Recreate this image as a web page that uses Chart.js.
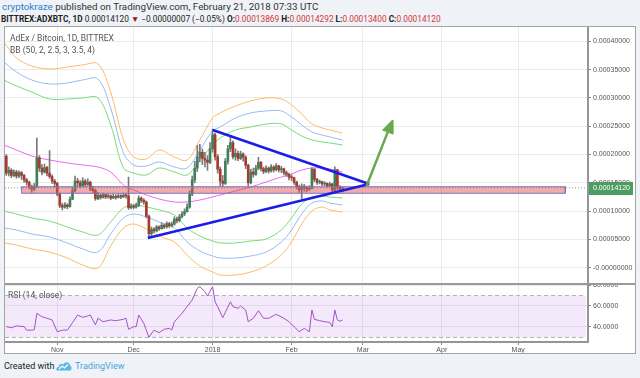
<!DOCTYPE html>
<html>
<head>
<meta charset="utf-8">
<title>ADXBTC 1D</title>
<script src="https://cdn.jsdelivr.net/npm/chart.js@4.4.1/dist/chart.umd.min.js"></script>
<style>
  html, body { margin: 0; padding: 0; }
  body { position: relative; width: 640px; height: 378px; overflow: hidden; background: #eff2f6; font-family: Roboto, "Liberation Sans", sans-serif; }
  .txt { position: absolute; white-space: nowrap; line-height: 12px; }
  #frame { position: absolute; left: 4px; top: 26px; width: 632px; height: 328px; box-sizing: border-box; border: 1px solid #a4a4a4; background: #fff; }
  canvas { position: absolute; left: 5px; }
  #priceCanvas { top: 27px; }
  #rsiCanvas { top: 285px; }
  #sep { position: absolute; left: 5px; top: 283px; width: 630px; height: 2px; background: #9a9a9a; }
  .red { color: #d4373a; }
  b { font-weight: 700; }
</style>
</head>
<body>
<div class="txt" style="left:2px;top:1px;font-size:9.8px;color:#333"><span style="color:#2d7dd2">cryptokraze</span> published on TradingView.com, February 21, 2018 07:33 UTC</div>
<div class="txt" style="left:1px;top:12.5px;font-size:8.3px;color:#222"><b>BITTREX:ADXBTC, 1D</b> 0.00014120 <span style="color:#a01010">▼</span> −0.00000007 (−0.05%) <b>O:</b><span class="red">0.00013869</span> <b>H:</b><span class="red">0.00014292</span> <b>L:</b><span class="red">0.00013400</span> <b>C:</b><span class="red">0.00014120</span></div>
<div id="frame"></div>
<canvas id="priceCanvas" width="630" height="257"></canvas>
<canvas id="rsiCanvas" width="630" height="68"></canvas>
<div id="sep"></div>
<div class="txt" style="left:10px;top:32px;font-size:8.5px;color:#555">AdEx / Bitcoin, 1D, BITTREX</div>
<div class="txt" style="left:10px;top:44px;font-size:8.5px;color:#555">BB (50, 2, 2.5, 3, 3.5, 4)</div>
<div class="txt" style="left:8px;top:289px;font-size:8.5px;color:#555">RSI (14, close)</div>
<div class="txt" style="left:4px;top:360px;font-size:9px;color:#222">Created with</div>
<svg style="position:absolute;left:56px;top:361px" width="16" height="10" viewBox="0 0 16 10">
  <path d="M1 9.5 C0 9.5 0 6 2.5 6 C3 3 6 2 7.5 3.5 C9 0.5 13.5 0.5 14 4.5 C16 5 16 9.5 14 9.5 Z" fill="#5db4e6"/>
  <path d="M3 8 L6 5 L8.5 7 L12 3.5" fill="none" stroke="#fff" stroke-width="1.2"/>
</svg>
<div class="txt" style="left:75px;top:360px;font-size:9px;color:#46a4df">TradingView</div>

<script>
// x values are days counted from 1 Nov 2017 (day 0)
const monthDays = [0, 30, 61, 92, 120, 151, 181];
const monthLabels = ['Nov', 'Dec', '2018', 'Feb', 'Mar', 'Apr', 'May'];

// prices are in satoshi (1e-8 BTC)
const priceTicks = [0, 5000, 10000, 15000, 20000, 25000, 30000, 35000, 40000];
const rsiTicks = [40, 60, 80];

// daily candles, 12 Oct 2017 .. 21 Feb 2018
const firstDay = -20;
const firstOpen = 19700;
const closes = [
  16700, 17200, 16300, 16900, 16200, 16800, 16300, 15500, 15100, 14300,
  13900, 14400, 19400, 17600, 16900, 17700, 16700, 16100, 15300, 14900,
  13000, 11000, 10700, 11100, 10800, 12100, 13600, 15300, 15000, 14500,
  15300, 14700, 15100, 13900, 13600, 12200, 12800, 12400, 12900, 12500,
  12700, 12300, 12600, 12400, 12700, 12500, 12800, 12700, 10600, 10900,
  10700, 11000, 12300, 11900, 11600, 9100, 6000, 6800, 6500, 7200,
  6900, 7500, 7200, 7800, 7400, 7700, 8600, 8300, 9000, 9500,
  9900, 10700, 13000, 15500, 17600, 19500, 20400, 19300, 19000, 18600,
  21000, 23500, 19600, 17400, 15300, 14900, 18800, 21000, 22100, 19600,
  20200, 19300, 20100, 19500, 18100, 15000, 16900, 16500, 17600, 18600,
  17500, 17000, 17600, 17100, 17800, 17300, 18000, 17300, 17500, 16800,
  16500, 16000, 15900, 15100, 14300, 13800, 14400, 14100, 13900, 14000,
  17400, 15600, 15100, 15200, 14800, 14900, 14500, 14800, 13700, 17300,
  14200, 13869, 14120
];
const highs = [
  20000, 17800, 17500, 17300, 17200, 17100, 17000, 16500, 15800, 15300,
  14600, 14900, 22900, 19800, 18200, 18300, 17900, 20700, 16400, 15600,
  15100, 13200, 11400, 11500, 11300, 12500, 14200, 16200, 15800, 15400,
  15900, 15600, 15700, 15300, 14400, 13900, 13300, 13000, 13200, 13000,
  13100, 12900, 13000, 12900, 13100, 12900, 13200, 13100, 16000, 11300,
  11200, 11400, 12700, 12500, 12200, 11800, 9300, 7200, 7100, 7500,
  7400, 7900, 7700, 8100, 8000, 8100, 9000, 8900, 9400, 9900,
  10400, 11300, 13600, 16200, 18800, 21600, 21800, 21000, 20400, 19800,
  22100, 24500, 23800, 20000, 17800, 16300, 19300, 21600, 23200, 22400,
  21000, 20600, 20600, 20300, 19800, 18300, 17400, 17600, 18100, 19500,
  18800, 17800, 18000, 17800, 18200, 18000, 18400, 18100, 17900, 17600,
  17100, 16700, 16400, 16000, 15300, 14600, 14800, 14700, 14400, 14500,
  17700, 17500, 15800, 15500, 15300, 15200, 15000, 15100, 14900, 17800,
  17400, 14500, 14292
];
const lows = [
  16300, 16200, 15900, 16100, 15800, 15900, 15600, 15100, 14600, 13900,
  13300, 13600, 14200, 17000, 16400, 16700, 16200, 15800, 14900, 14200,
  12700, 10600, 10200, 10500, 10400, 10700, 12000, 13400, 14400, 14100,
  14300, 14300, 14500, 13600, 13200, 11900, 12000, 12100, 12300, 12200,
  12300, 12000, 12200, 12100, 12300, 12200, 12400, 12300, 10300, 10400,
  10400, 10500, 10800, 11500, 11200, 8800, 5400, 5300, 6200, 6300,
  6600, 6800, 6900, 7000, 7100, 7200, 7500, 7900, 8100, 8800,
  9200, 9800, 10500, 12700, 15000, 17000, 18700, 18200, 17800, 17200,
  18400, 20400, 19000, 16700, 14400, 14300, 14700, 18300, 20500, 19200,
  19000, 18900, 19100, 18800, 17500, 14500, 14800, 16000, 16300, 17300,
  17100, 16600, 16800, 16700, 16900, 16900, 17100, 16900, 16800, 16400,
  16100, 15500, 15400, 14700, 13900, 13300, 12200, 13500, 13400, 13600,
  13900, 15200, 14700, 14800, 14500, 14500, 14200, 14300, 13300, 13500,
  13800, 13600, 13400
];

// Bollinger bands at sample days
const bandDays = [-21, -16, -10, -3, 4, 10, 16, 21, 26, 30, 35, 40, 46, 51, 56, 61, 64, 70, 76, 82, 88, 92, 96, 100, 104, 107, 112];
const bbMid = [21680, 20800, 19740, 19030, 18500, 18150, 17790, 16910, 14610, 13730, 12850, 12140, 11610, 11610, 11960, 12490, 12850, 13550, 14260, 15140, 16030, 16560, 17260, 17620, 17620, 17440, 16910];
const bbUpper2 = [33170, 32110, 31050, 29810, 29810, 29990, 29990, 25220, 17620, 16730, 16380, 17620, 16910, 16380, 19030, 21680, 22920, 24330, 24860, 25390, 25390, 24330, 23270, 22570, 22210, 22040, 21680];
const bbUpper25 = [36350, 34580, 33170, 32460, 32640, 33170, 33340, 28220, 20270, 18150, 17970, 18680, 17790, 17620, 20800, 24160, 24860, 26450, 27340, 27690, 27690, 26630, 25220, 23980, 23450, 23100, 22570];
const bbUpper3 = [39880, 37050, 35640, 35110, 35460, 35820, 35990, 31050, 22570, 19560, 19210, 20800, 19560, 19030, 22570, 26450, 27340, 28570, 29460, 29990, 29810, 28750, 27160, 25390, 24690, 24330, 23800];
const bbLower2 = [10020, 9490, 8780, 8250, 7190, 6310, 5780, 8080, 10550, 11080, 10730, 10200, 9310, 7020, 5600, 4720, 4370, 4370, 4720, 5070, 6660, 8780, 11260, 12490, 12670, 12490, 12320];
const bbLower25 = [7020, 6660, 5960, 5430, 4370, 3310, 2770, 5960, 8780, 9490, 8960, 8080, 7020, 4540, 2950, 2070, 1710, 1710, 2070, 2770, 4540, 6660, 9490, 11430, 11790, 11430, 11080];
const bbLower3 = [4370, 4010, 3310, 2770, 1710, 480, -50, 3840, 7020, 7720, 6840, 5600, 4540, 2240, 300, -760, -1290, -1290, -760, 300, 2240, 4540, 7720, 10020, 10730, 10200, 9840];

// RSI(14)
const rsiDays = [-20, -18, -16, -13, -12, -10, -9, -8, -6, -4, -2, 0, 2, 4, 6, 8, 10, 12, 13, 15, 16, 18, 21, 23, 26, 27, 28, 30, 31, 32, 34, 36, 38, 40, 42, 44, 45, 46, 49, 51, 53, 55, 56, 58, 59, 61, 62, 63, 65, 68, 69, 71, 72, 74, 75, 77, 79, 81, 83, 86, 89, 91, 93, 95, 97, 98, 99, 100, 101, 103, 105, 107, 108, 109, 110, 111, 112];
const rsiValues = [40.3, 39.3, 41, 40.3, 37, 37, 37.5, 53, 49.8, 48.3, 46.7, 35.5, 37, 37, 44, 51.4, 49.2, 50.5, 51.4, 42, 48.3, 45, 46.7, 46, 47.3, 48.3, 37.8, 40.3, 40.3, 51.4, 43.5, 30.2, 37, 34.6, 37.8, 38.7, 37, 45, 53, 59.4, 65.7, 76.9, 78.4, 73.6, 69.5, 78.4, 64, 59.4, 48.9, 64, 59.4, 57.8, 60, 56.2, 45, 48.3, 55.5, 48.3, 48.3, 52.1, 48.3, 45, 40.3, 35.5, 38.7, 37, 35.5, 56.2, 47.3, 46, 45, 44.4, 40.3, 56.2, 46.7, 45.5, 46.7];
const rsiBand = [30, 70];

// drawings on the chart: [day, price]
const zoneDays = [-14, 199.5];
const zonePrices = [13150, 14300];
const upperTrend = [[61.06, 24330], [122.5, 14790]];
const lowerTrend = [[35.57, 5250], [122.5, 14790]];
const arrowShaft = [[121.45, 14440], [129.76, 23960]];
const arrowHead = [[131.65, 26100], [131.76, 23610], [127.76, 24310], [131.65, 26100]];

const X_MIN = -20.5, X_MAX = 208.4;
const GRID = '#ebebeb';
const AXIS = '#959595';
const UP = '#3f8058', DOWN = '#a63a2e', WICK = '#7a7a7c';

Chart.defaults.font.family = '"Liberation Sans", Arial, sans-serif';
Chart.defaults.font.size = 7;
Chart.defaults.color = '#555';

const pts = (xs, ys) => xs.map((x, i) => ({ x: x, y: ys[i] }));
const pairs = arr => arr.map(p => ({ x: p[0], y: p[1] }));
const line = (data, color, extra) => Object.assign({
  type: 'line', data: data, borderColor: color, borderWidth: 1,
  pointRadius: 0, fill: false, tension: 0
}, extra || {});

const candleDays = closes.map((c, i) => firstDay + i);
const opens = closes.map((c, i) => i === 0 ? firstOpen : closes[i - 1]);
const lastClose = closes[closes.length - 1];

function xScale(showLabels) {
  return {
    type: 'linear', min: X_MIN, max: X_MAX, offset: false,
    afterBuildTicks: s => { s.ticks = monthDays.map(v => ({ value: v })); },
    afterFit: s => { s.height = showLabels ? 11 : 0; s.paddingLeft = 0; s.paddingRight = 0; },
    grid: { color: GRID, drawTicks: showLabels, tickLength: 3, tickColor: '#888', offset: false },
    border: { display: showLabels, color: AXIS, width: 2 },
    ticks: {
      display: showLabels, autoSkip: false, maxRotation: 0, padding: 1,
      callback: v => monthLabels[monthDays.indexOf(v)]
    }
  };
}

function yScale(min, max, ticks, fmt) {
  return {
    position: 'right', min: min, max: max,
    afterBuildTicks: s => { s.ticks = ticks.map(v => ({ value: v })); },
    afterFit: s => { s.width = 47; s.paddingTop = 0; s.paddingBottom = 0; },
    grid: { color: GRID, tickLength: 3, tickColor: '#888' },
    border: { color: AXIS, width: 2 },
    ticks: { padding: 2, callback: fmt }
  };
}

const lastPriceLabel = {
  id: 'lastPriceLabel',
  afterDraw(chart) {
    const y = Math.round(chart.scales.y.getPixelForValue(lastClose));
    const x = chart.chartArea.right + 1;
    const c = chart.ctx;
    c.save();
    c.fillStyle = '#4f9c63';
    c.fillRect(x, y - 6, 44, 13);
    c.fillStyle = '#fff';
    c.font = '7px "Liberation Sans", Arial, sans-serif';
    c.textBaseline = 'middle';
    c.fillText((lastClose / 1e8).toFixed(8), x + 4, y + 0.5);
    c.restore();
  }
};

const common = {
  responsive: false, animation: false, devicePixelRatio: 1, events: [],
  layout: { padding: 0 },
  plugins: { legend: { display: false }, tooltip: { enabled: false } }
};

new Chart(document.getElementById('priceCanvas'), {
  type: 'bar',
  data: {
    datasets: [
      line(pairs(arrowShaft), '#68a84e', { borderWidth: 2.5, order: 0 }),
      line(pairs(arrowHead), '#68a84e', { fill: 'shape', backgroundColor: '#68a84e', order: 0 }),
      line(pairs(upperTrend), '#1c1ce8', { borderWidth: 2.5, order: 1 }),
      line(pairs(lowerTrend), '#1c1ce8', { borderWidth: 2.5, order: 1 }),
      line(pts([zoneDays[0], zoneDays[1], zoneDays[1], zoneDays[0], zoneDays[0]],
               [zonePrices[1], zonePrices[1], zonePrices[0], zonePrices[0], zonePrices[1]]),
           '#7d72c2', { fill: 'shape', backgroundColor: 'rgba(226,80,80,0.48)', order: 2 }),
      line(pts([X_MIN, X_MAX], [lastClose, lastClose]), '#7fa78c', { borderDash: [1, 2], order: 3 }),
      {
        type: 'bar', order: 4, grouped: false, barThickness: 2, minBarLength: 1,
        data: candleDays.map((d, i) => ({ x: d, y: [opens[i], closes[i]] })),
        backgroundColor: closes.map((c, i) => c >= opens[i] ? UP : DOWN)
      },
      {
        type: 'bar', order: 5, grouped: false, barThickness: 1,
        data: candleDays.map((d, i) => ({ x: d, y: [lows[i], highs[i]] })),
        backgroundColor: WICK
      },
      line(pts(bandDays, bbMid), '#ee66ee', { tension: 0.35, order: 6 }),
      line(pts(bandDays, bbUpper2), '#79db79', { tension: 0.35, order: 6 }),
      line(pts(bandDays, bbLower2), '#79db79', { tension: 0.35, order: 6 }),
      line(pts(bandDays, bbUpper25), '#95bbf2', { tension: 0.35, order: 6 }),
      line(pts(bandDays, bbLower25), '#95bbf2', { tension: 0.35, order: 6 }),
      line(pts(bandDays, bbUpper3), '#fdbb66', { tension: 0.35, order: 6 }),
      line(pts(bandDays, bbLower3), '#fdbb66', { tension: 0.35, order: 6 })
    ]
  },
  options: Object.assign({}, common, {
    scales: {
      x: xScale(false),
      y: yScale(-2880, 42527, priceTicks, v => v === 0 ? '-0.00000000' : (v / 1e8).toFixed(8))
    }
  }),
  plugins: [lastPriceLabel]
});

new Chart(document.getElementById('rsiCanvas'), {
  type: 'line',
  data: {
    datasets: [
      line(pts(rsiDays, rsiValues), '#a551c8', { order: 0 }),
      line(pts([X_MIN, 207.6], [rsiBand[1], rsiBand[1]]), '#b4b4b4', { borderDash: [4, 3], order: 1 }),
      line(pts([X_MIN, 207.6], [rsiBand[0], rsiBand[0]]), '#b4b4b4', {
        borderDash: [4, 3], fill: '-1', backgroundColor: 'rgba(160,70,215,0.12)', order: 1
      })
    ]
  },
  options: Object.assign({}, common, {
    scales: {
      x: xScale(true),
      y: yScale(25.7, 80, rsiTicks, v => v.toFixed(4))
    }
  })
});
</script>
</body>
</html>
